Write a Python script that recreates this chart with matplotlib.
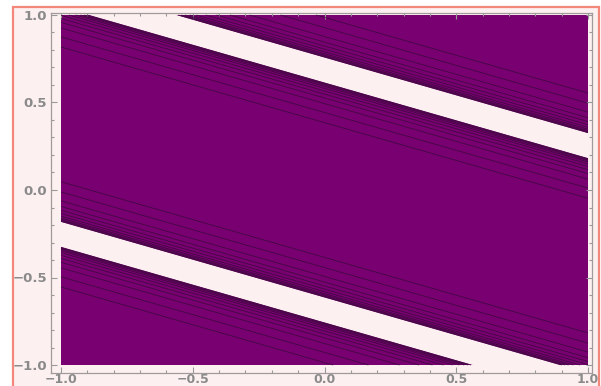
import numpy as np
import matplotlib
matplotlib.use("Agg")
import matplotlib.pyplot as plt
from matplotlib.patches import Rectangle
from matplotlib.ticker import MultipleLocator

# Band geometry: field depends on u = y + slope * x
slope = 0.432
band_inner = 0.614   # |u| where a clipped band starts
band_outer = 0.757   # |u| where a clipped band ends
# Offsets (in u) of contour lines from the band edges
line_offsets = [0.003, 0.008, 0.014, 0.022, 0.033, 0.048, 0.066,
                0.088, 0.12, 0.171, 0.229]

x_ticks = [-1.0, -0.5, 0.0, 0.5, 1.0]
y_ticks = [-1.0, -0.5, 0.0, 0.5, 1.0]

W, H = 601, 386
fig = plt.figure(figsize=(W / 100, H / 100), dpi=100)
fig.patch.set_facecolor("white")

# Outer panel with salmon border
fig.patches.append(Rectangle((13 / W, -0.05), (599 - 13) / W, 1 - 7 / H + 0.05,
                             transform=fig.transFigure, facecolor="#fdf0f0",
                             edgecolor="#f4877b", linewidth=1.6, zorder=-5))

ax = fig.add_axes([51 / W, 1 - 373 / H, (592 - 51) / W, (373 - 13) / H])
ax.set_zorder(2)
ax.set_facecolor("#fdf0f0")

center = 0.5 * (band_inner + band_outer)
half = 0.5 * (band_outer - band_inner)

xs = np.linspace(-1, 1, 1400)
ys = np.linspace(-1, 1, 1000)
X, Y = np.meshgrid(xs, ys)
U = Y + slope * X
S = np.abs(np.abs(U) - center)

ax.contourf(X, Y, S, levels=[half, 10], colors=["#790071"], antialiased=True)
ax.contour(X, Y, S, levels=[half + d for d in line_offsets],
           colors="#3a0a3c", linewidths=0.6, alpha=0.85)

ax.set_xlim(-1 - 10 / 263.5, 1 + 4 / 263.5)
ax.set_ylim(-1 - 8 / 175, 1 + 2 / 175)

ax.set_xticks(x_ticks)
ax.set_yticks(y_ticks)
ax.set_xticklabels([f"{t:.1f}".replace("-", "\u2212") for t in x_ticks])
ax.set_yticklabels([f"{t:.1f}".replace("-", "\u2212") for t in y_ticks])
ax.xaxis.set_minor_locator(MultipleLocator(0.1))
ax.yaxis.set_minor_locator(MultipleLocator(0.1))
ax.tick_params(which="both", direction="in", top=True, right=True,
               color="#999999", width=0.8)
ax.tick_params(which="major", length=4.5, labelsize=9.5, labelcolor="#8a8a8a", pad=3)
ax.tick_params(axis="x", which="major", pad=0.3, labelsize=9)
ax.tick_params(which="minor", length=2.5)
for lbl in ax.get_xticklabels() + ax.get_yticklabels():
    lbl.set_fontweight("bold")
for sp in ax.spines.values():
    sp.set_color("#a09a9a")
    sp.set_linewidth(0.9)

fig.savefig("out.png", dpi=100)
